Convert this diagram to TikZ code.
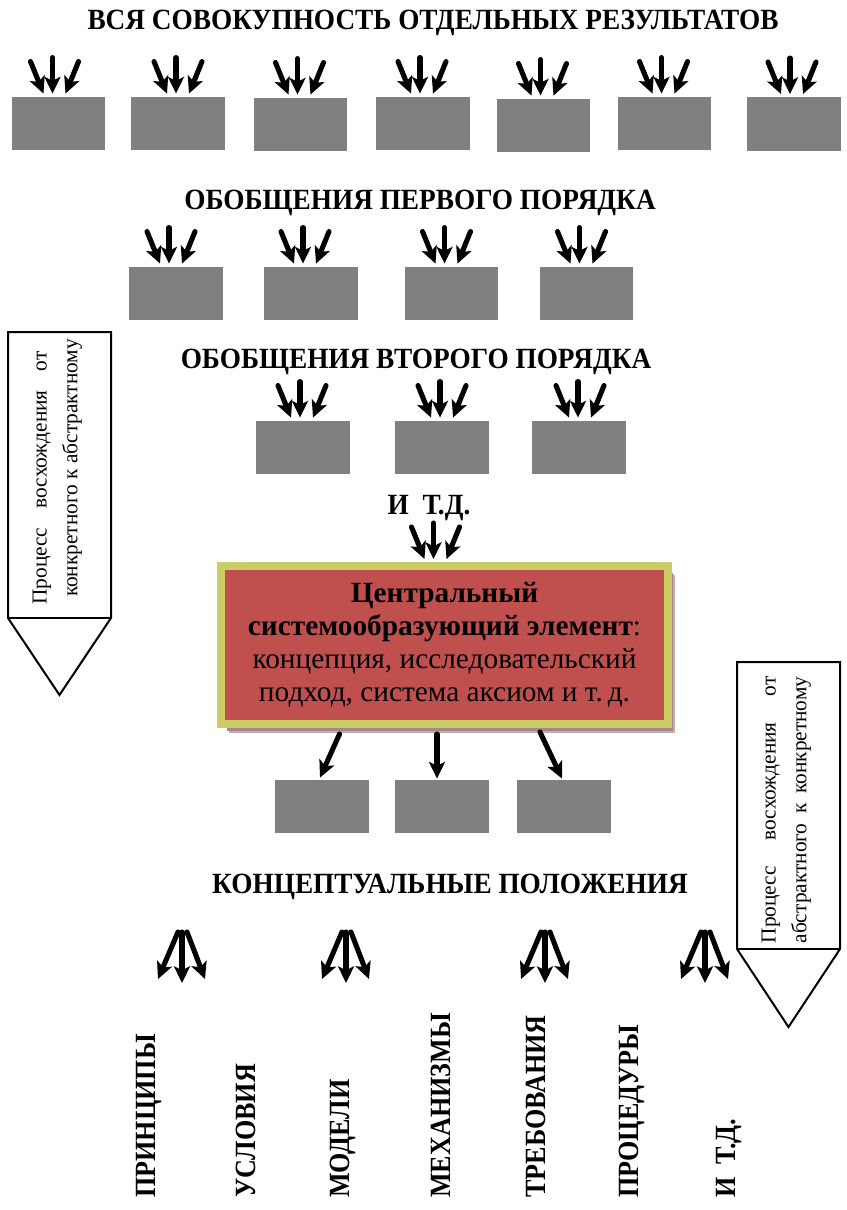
\documentclass[tikz,border=0pt]{standalone}
\usepackage{fontspec}
\setmainfont{Liberation Serif}
\newfontfamily\headfont{Liberation Serif}[FakeStretch=0.93]
\newfontfamily\vlabfont{Liberation Serif}[FakeStretch=0.89]
\usetikzlibrary{arrows.meta,calc,shadows}
\definecolor{boxgray}{RGB}{128,128,128}
\definecolor{cred}{RGB}{192,80,77}
\definecolor{colive}{RGB}{204,204,102}
\definecolor{shadowA}{RGB}{200,172,172}
\definecolor{shadowB}{RGB}{165,135,135}
\newcommand\ArrIn[2]{%
  \draw[arr] ($(#1.north)+(#2-22,-35)$) -- ($(#1.north)+(#2-9,-3)$);
  \draw[arr] ($(#1.north)+(#2,-39)$) -- ($(#1.north)+(#2,-3)$);
  \draw[arr] ($(#1.north)+(#2+26,-35)$) -- ($(#1.north)+(#2+13,-3)$);}
\newcommand\ArrOut[1]{%
  \draw[arr] ($(#1)+(-4,0)$) -- ($(#1)+(-24,47)$);
  \draw[arr] (#1) -- ($(#1)+(0,51)$);
  \draw[arr] ($(#1)+(5,0)$) -- ($(#1)+(23,47)$);}
\begin{document}
\begin{tikzpicture}[x=0.75pt,y=-0.75pt,
  head/.style={font=\headfont\fontsize{22}{26}\selectfont\bfseries, inner sep=0},
  gbox/.style={rectangle, fill=boxgray, minimum width=70pt, minimum height=40pt, inner sep=0},
  arr/.style={line width=3.8pt, line cap=round, -{Stealth[length=12.5pt,width=12pt,inset=3pt]}},
  side/.style={line width=1.5pt, line join=miter},
  sidetxt/.style={rotate=90, font=\fontsize{16}{18}\selectfont, inner sep=0},
  vlab/.style={rotate=90, anchor=west, font=\vlabfont\fontsize{22}{26}\selectfont\bfseries, inner sep=0},
  cbox/.style={rectangle, fill=cred, draw=colive, line width=6pt,
    minimum width=335pt, minimum height=118.5pt, align=center, inner sep=0,
    font=\fontsize{22}{24.75}\selectfont,
    general shadow={shadow xshift=5.5pt, shadow yshift=-7pt, fill=shadowA},
    general shadow={shadow xshift=4pt, shadow yshift=-5pt, fill=shadowB}}]
\useasboundingbox (0,0) rectangle (846,1210);

% headings
\node[head] (t1) at (433,23) {ВСЯ СОВОКУПНОСТЬ ОТДЕЛЬНЫХ РЕЗУЛЬТАТОВ};
\node[head] (t2) at (420,203) {ОБОБЩЕНИЯ ПЕРВОГО ПОРЯДКА};
\node[head] (t3) at (416,362) {ОБОБЩЕНИЯ ВТОРОГО ПОРЯДКА};
\node[head] (t4) at (429,508) {И\ \ Т.Д.};
\node[head] (t5) at (450,887) {КОНЦЕПТУАЛЬНЫЕ ПОЛОЖЕНИЯ};

% row 1
\node[gbox] (a1) at (58.5,123.5) {};
\node[gbox] (a2) at (178,123.5) {};
\node[gbox] (a3) at (300.5,124.5) {};
\node[gbox] (a4) at (423,123.5) {};
\node[gbox] (a5) at (543.5,125.5) {};
\node[gbox] (a6) at (664.5,123.5) {};
\node[gbox] (a7) at (794,124) {};
\ArrIn{a1}{-6}\ArrIn{a2}{-2}\ArrIn{a3}{-3}\ArrIn{a4}{-3}\ArrIn{a5}{-3}\ArrIn{a6}{-3}\ArrIn{a7}{-4}

% row 2
\node[gbox] (b1) at (176,293.5) {};
\node[gbox] (b2) at (311,293.5) {};
\node[gbox] (b3) at (451.5,293.5) {};
\node[gbox] (b4) at (586.5,293.5) {};
\ArrIn{b1}{-7}\ArrIn{b2}{-8}\ArrIn{b3}{-7}\ArrIn{b4}{-7}

% row 3
\node[gbox] (c1) at (303,447.5) {};
\node[gbox] (c2) at (442,447.5) {};
\node[gbox] (c3) at (579,447.5) {};
\ArrIn{c1}{-3}\ArrIn{c2}{-2}\ArrIn{c3}{-1}

% central element
\node[cbox] (cc) at (444.5,645) {{\bfseries Центральный}\\{\bfseries системообразующий элемент}:\\концепция, исследовательский\\подход, система аксиом и т.\,д.};
\ArrIn{cc}{-11}

% row 4
\node[gbox] (d1) at (322,806.5) {};
\node[gbox] (d2) at (442,806.5) {};
\node[gbox] (d3) at (564,806.5) {};
\draw[arr] ($(cc.south)+(-105,6)$) -- ($(d1.north)+(-2,-2)$);
\draw[arr] ($(cc.south)+(-7.5,6)$) -- ($(d2.north)+(-5,-1)$);
\draw[arr] ($(cc.south)+(95.5,4)$) -- ($(d3.north)+(-2,-1)$);

% diverging arrows
\coordinate (e1) at (182,932);
\coordinate (e2) at (346,932);
\coordinate (e3) at (545,932);
\coordinate (e4) at (705,932);
\ArrOut{e1}\ArrOut{e2}\ArrOut{e3}\ArrOut{e4}

% vertical labels
\node[vlab] (v1) at (149,1198) {ПРИНЦИПЫ};
\node[vlab] (v2) at (246,1198) {УСЛОВИЯ};
\node[vlab] (v3) at (343,1198) {МОДЕЛИ};
\node[vlab] (v4) at (441,1198) {МЕХАНИЗМЫ};
\node[vlab] (v5) at (536,1198) {ТРЕБОВАНИЯ};
\node[vlab] (v6) at (632,1198) {ПРОЦЕДУРЫ};
\node[vlab] (v7) at (729,1198) {И\ \ Т.Д.};

% side arrows
\draw[side] (8,332) -- (111,332) -- (111,618) -- (59.5,695) -- (8,618) -- cycle;
\draw[side] (8,618) -- (111,618);
\node[sidetxt] (s1) at (42,478) {\makebox[190pt][s]{Процесс восхождения от}};
\node[sidetxt] (s2) at (72,468) {конкретного к абстрактному};

\draw[side] (737,662) -- (840,662) -- (840,949) -- (788.5,1027) -- (737,949) -- cycle;
\draw[side] (737,949) -- (840,949);
\node[sidetxt] (s3) at (771,810) {\makebox[200pt][s]{Процесс восхождения от}};
\node[sidetxt] (s4) at (801,810) {\makebox[200pt][s]{абстрактного к конкретному}};
\end{tikzpicture}
\end{document}
